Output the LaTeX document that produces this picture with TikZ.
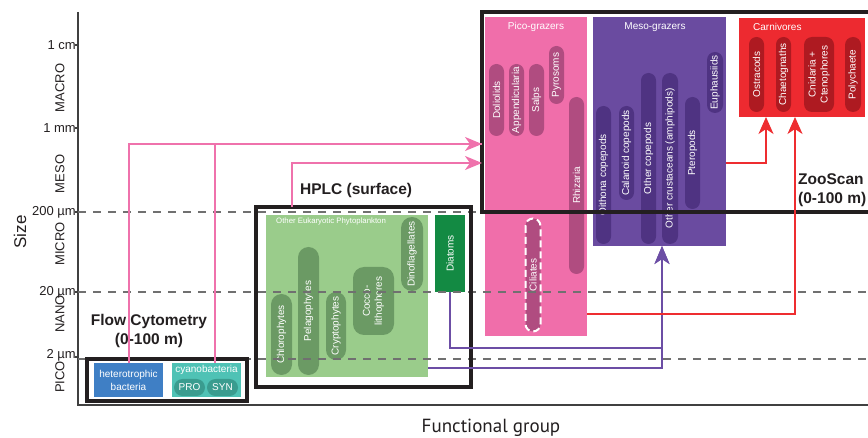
\documentclass[tikz,border=0pt]{standalone}
\usepackage{fontspec}
\usepackage{graphicx}
\setmainfont{Liberation Sans}
\newfontfamily\ptsans{PT Sans}
\usetikzlibrary{arrows.meta,calc}
\definecolor{pinkbg}{HTML}{F06EAA}
\definecolor{pinkpill}{HTML}{B04C80}
\definecolor{purplebg}{HTML}{6A4BA0}
\definecolor{purplepill}{HTML}{4F3382}
\definecolor{redbg}{HTML}{ED2A30}
\definecolor{redpill}{HTML}{AE1A21}
\definecolor{greenbg}{HTML}{9ACC8B}
\definecolor{greenpill}{HTML}{6B9A64}
\definecolor{diatom}{HTML}{138A43}
\definecolor{hetblue}{HTML}{3F7FC5}
\definecolor{cyanteal}{HTML}{4FC2B5}
\definecolor{cyandark}{HTML}{3A9C8F}
\definecolor{pinkline}{HTML}{EF72AC}
\definecolor{redline}{HTML}{EE2D30}
\definecolor{purpleline}{HTML}{6C4EA5}
\definecolor{framecol}{HTML}{231F20}
\definecolor{dashgray}{HTML}{707070}
\definecolor{axisgray}{HTML}{404040}
\begin{document}
\begin{tikzpicture}[x=1pt,y=-1pt,
  axisline/.style={draw=axisgray, line width=1.3pt},
  ticklab/.style={anchor=east, inner sep=0, font=\fontsize{13}{13}\selectfont, text=framecol},
  zonelab/.style={rotate=90, inner sep=0, font=\fontsize{13}{13}\selectfont, text=framecol},
  cbox/.style={anchor=north west, inner sep=0, outer sep=0, draw=none},
  boxtitle/.style={inner sep=0, text=white, font=\fontsize{10}{10}\selectfont},
  pill/.style={rotate=90, inner sep=0, outer sep=0, text=white, font=\fontsize{10}{12}\selectfont, align=center},
  guide/.style={draw=dashgray, line width=1.3pt, dash pattern=on 8pt off 7pt},
  frame/.style={anchor=north west, draw=framecol, line width=4pt, inner sep=0, outer sep=0},
  biglab/.style={inner sep=0, font=\bfseries\fontsize{15.5}{19}\selectfont, text=framecol},
  pinkarr/.style={draw=pinkline, line width=2pt, -{Stealth[length=17pt,width=14pt,inset=5pt]}},
  redarr/.style={draw=redline, line width=2pt, -{Stealth[length=17pt,width=15pt,inset=5pt]}},
  purplearr/.style={draw=purpleline, line width=2pt, -{Stealth[length=18pt,width=15pt,inset=5pt]}},
  pinkwire/.style={draw=pinkline, line width=2pt}
]
\useasboundingbox (0,0) rectangle (868,438);

% ---------- axes ----------
\draw[axisline] (78,12) -- (78,405) -- (868,405);
\foreach \yy in {45,128,212,292,357} \draw[axisline] (75,\yy) -- (78,\yy);
\node[ticklab] (t1) at (76,45) {1 cm};
\node[ticklab] (t2) at (76,128) {1 mm};
\node[ticklab] (t3) at (76,212) {200 µm};
\node[ticklab] (t4) at (76,292) {20 µm};
\node[ticklab] (t5) at (76,355) {2 µm};
\node[zonelab] (zmacro) at (60,88) {MACRO};
\node[zonelab] (zmeso) at (60,174) {MESO};
\node[zonelab] (zmicro) at (60,244) {MICRO};
\node[zonelab] (znano) at (60,314) {NANO};
\node[zonelab] (zpico) at (60,377) {PICO};
\node[rotate=90, inner sep=0, font=\fontsize{17}{17}\selectfont, text=framecol] (size) at (20,232) {Size};
\node[anchor=base, inner sep=0, font=\ptsans\fontsize{19}{19}\selectfont, text=framecol] (fg) at (491,432) {Functional group};

% ---------- pico-grazers ----------
\node[cbox, fill=pinkbg, minimum width=102, minimum height=319] (pico) at (485,17) {};
\node[boxtitle] (picot) at (536,27) {Pico-grazers};
\node[pill, fill=pinkpill, minimum width=72, minimum height=15, rounded corners=7.5] (dol) at (496.5,100) {Doliolids};
\node[pill, fill=pinkpill, minimum width=72, minimum height=15, rounded corners=7.5] (app) at (516.5,100) {Appendicularia};
\node[pill, fill=pinkpill, minimum width=72, minimum height=15, rounded corners=7.5] (salp) at (536.5,100) {Salps};
\node[pill, fill=pinkpill, minimum width=58, minimum height=15, rounded corners=7.5] (pyro) at (556.5,75) {Pyrosoms};
\node[pill, fill=pinkpill, minimum width=177, minimum height=15, rounded corners=7.5] (rhiz) at (576.5,185.5) {Rhizaria};
\node[pill, fill=pinkpill, draw=white, line width=2pt, dash pattern=on 7pt off 4pt, minimum width=113, minimum height=15, rounded corners=7.5] (cil) at (533,275) {Ciliates};

% ---------- meso-grazers ----------
\node[cbox, fill=purplebg, minimum width=133, minimum height=229] (meso) at (593,17) {};
\node[boxtitle] (mesot) at (655,27) {Meso-grazers};
\node[pill, fill=purplepill, minimum width=138, minimum height=15, rounded corners=7.5] (oith) at (603.5,175) {Oithona copepods};
\node[pill, fill=purplepill, minimum width=94, minimum height=15, rounded corners=7.5] (cal) at (626.5,153) {Calanoid copepods};
\node[pill, fill=purplepill, minimum width=171, minimum height=15, rounded corners=7.5] (ocop) at (648.5,158.5) {Other copepods};
\node[pill, fill=purplepill, minimum width=171, minimum height=16, rounded corners=8] (ocru) at (670,158.5) {Other crustaceans (amphipods)};
\node[pill, fill=purplepill, minimum width=112, minimum height=15, rounded corners=7.5] (pter) at (692.5,153) {Pteropods};
\node[pill, fill=purplepill, minimum width=61, minimum height=16, rounded corners=8] (euph) at (715,82.5) {Euphausiids};

% ---------- carnivores ----------
\node[cbox, fill=redbg, minimum width=126, minimum height=99] (carn) at (739,18) {};
\node[boxtitle, anchor=west] (carnt) at (753,27) {Carnivores};
\node[pill, fill=redpill, minimum width=75, minimum height=15, rounded corners=7.5] (ostr) at (756.5,74.5) {Ostracods};
\node[pill, fill=redpill, minimum width=75, minimum height=15, rounded corners=7.5] (chae) at (783.5,74.5) {Chaetognaths};
\node[pill, fill=redpill, minimum width=75, minimum height=30, rounded corners=8] (cnid) at (819,74.5) {Cnidaria +\\Ctenophores};
\node[pill, fill=redpill, minimum width=75, minimum height=16, rounded corners=8] (poly) at (853,74.5) {Polychaete};

% ---------- phytoplankton (HPLC) ----------
\node[cbox, fill=greenbg, minimum width=162, minimum height=162] (green) at (266,215) {};
\node[inner sep=0, anchor=west, text=white, font=\fontsize{7.8}{8}\selectfont] (greent) at (276,221.5) {Other Eukaryotic Phytoplankton};
\node[pill, fill=greenpill, minimum width=81, minimum height=21, rounded corners=10.5] (chlo) at (281.5,334.5) {Chlorophytes};
\node[pill, fill=greenpill, minimum width=128, minimum height=21, rounded corners=10.5] (pela) at (308.5,311) {Pelagophytes};
\node[pill, fill=greenpill, minimum width=68, minimum height=20, rounded corners=10] (cryp) at (336,326) {Cryptophytes};
\node[pill, fill=greenpill, minimum width=68, minimum height=41, rounded corners=11] (cocc) at (373.5,301) {Cocco-\\lithophores};
\node[pill, fill=greenpill, minimum width=74, minimum height=22, rounded corners=11] (dino) at (412,254) {Dinoflagellates};
\node[cbox, fill=diatom, minimum width=30, minimum height=77] (diatoms) at (435,215) {};
\node[pill] (diatomst) at (diatoms.center) {Diatoms};

% ---------- bacteria (flow cytometry) ----------
\node[cbox, fill=hetblue, minimum width=69, minimum height=34] (het) at (94,363) {};
\node[inner sep=0, align=center, text=white, font=\fontsize{10}{13}\selectfont] (hett) at (het.center) {heterotrophic\\bacteria};
\node[cbox, fill=cyanteal, minimum width=69, minimum height=34] (cyano) at (172,363) {};
\node[inner sep=0, text=white, font=\fontsize{10}{10}\selectfont] (cyanot) at (206.5,370) {cyanobacteria};
\node[fill=cyandark, inner sep=0, minimum width=31, minimum height=17, rounded corners=8.5, text=white, font=\fontsize{10}{10}\selectfont] (pro) at (189.5,387.5) {PRO};
\node[fill=cyandark, inner sep=0, minimum width=31, minimum height=17, rounded corners=8.5, text=white, font=\fontsize{10}{10}\selectfont] (syn) at (222.5,387.5) {SYN};

% ---------- size-class guides ----------
\draw[guide] (78,212) -- (868,212);
\draw[guide] (78,292) -- (868,292);
\draw[guide] (78,359) -- (868,359);

% ---------- method frames ----------
\node[frame, minimum width=418, minimum height=200] (zoo) at (482,12) {};
\node[frame, minimum width=215, minimum height=180] (hplc) at (256,207) {};
\node[frame, minimum width=160, minimum height=42] (flow) at (87,359) {};
\node[biglab, anchor=west] (hplct) at (300,190) {HPLC (surface)};
\node[biglab, anchor=west, align=left] (zoot) at (798,190) {ZooScan\\(0-100 m)};
\node[biglab, align=center] (flowt) at (149,330.5) {Flow Cytometry\\(0-100 m)};

% ---------- connectors ----------
\draw[pinkwire] (het.north) |- ($(zoo.north west)+(0,132)$);
\draw[pinkarr] ($(cyano.north west)+(43,0)$) |- ($(zoo.north west)+(0,132)$);
\draw[pinkarr] ($(hplc.north west)+(36,0)$) |- ($(zoo.north west)+(0,151)$);
\draw[purplearr] (diatoms.south) -- ++(0,56) -| ($(meso.south west)+(69,0)$);
\draw[purplearr] ($(green.south east)+(0,-9)$) -| ($(meso.south west)+(69,0)$);
\draw[redarr] ($(pico.south east)+(0,-22)$) -| ($(carn.south west)+(56,0)$);
\draw[redarr] ($(meso.north east)+(0,146)$) -| ($(carn.south west)+(27,0)$);
\end{tikzpicture}
\end{document}
